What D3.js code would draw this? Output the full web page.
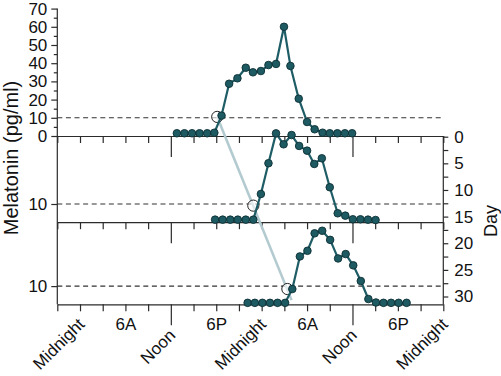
<!DOCTYPE html>
<html><head><meta charset="utf-8">
<script src="https://cdn.jsdelivr.net/npm/d3@7"></script>
<style>
html,body{margin:0;padding:0;background:#fff;}
svg{display:block;font-family:"Liberation Sans",Arial,sans-serif;}
</style></head>
<body><svg id="c" width="501" height="376"></svg>
<script>
// ---- data (hours since midnight of day 1; melatonin pg/ml) ----
const topHours = [12.8,13.8,14.8,15.8,16.8,17.75,18.7,19.7,20.8,21.9,22.85,23.9,24.9,25.9,26.95,27.8,28.9,30.0,31.0,32.05,33.0,34.0,35.0,35.95];
const topVals  = [1.5,1.5,1.5,1.5,1.5,1.8,11.2,28.7,31.7,37.5,35,35.7,39,39.6,60,38.5,20.5,7.7,3.7,1.8,1.5,1.5,1.5,1.5];
const midHours = [17.85,18.85,19.85,20.85,21.9,22.9,23.9,24.9,25.9,26.9,27.95,28.95,30.0,30.95,31.95,33.0,34.05,35.05,36.05,37.05,38.05,39.05];
const midVals  = [1.4,1.4,1.4,1.4,1.4,1.4,15.5,32.4,48.8,42.8,47.9,41.9,39.3,32,35.1,19.2,4.9,3.6,1.6,1.6,1.4,1.2];
const botHours = [22.15,23.1,24.1,25.1,26.1,27.1,28.05,29.05,30.05,31.0,32.0,33.05,34.1,35.1,36.1,37.1,38.1,39.1,40.1,41.1,42.1,43.15];
const botVals  = [0.8,0.8,0.8,0.8,0.8,0.8,8.4,26.3,29.4,39,40.4,35.4,25.2,27.6,21.4,12.8,2.9,1.0,0.8,0.8,0.8,0.8];
const onsetHours = [18.13,22.9,27.4];
const onsetVals  = [10.5,9.1,8.4];
const trendEnd = {hour:27.95, value:2.3};
const threshold = 10;
const xTickHours = d3.range(-3,49,3);
const xLabels = {0:"Midnight",6:"6A",12:"Noon",18:"6P",24:"Midnight",30:"6A",36:"Noon",42:"6P",48:"Midnight"};
const topYTicks = d3.range(0,71,5);
const dayTicks = d3.range(0,30.1,2.5);
const dayLabels = [0,5,10,15,20,25,30];

// ---- layout ----
const svg = d3.select("#c");
const x = d3.scaleLinear().domain([-3,48]).range([57.3,443.3]);
const k = 1.82; // px per pg/ml
const yTop = d3.scaleLinear().domain([0,70]).range([136,136-70*k]);
const yMid = d3.scaleLinear().domain([0,10]).range([222.2,222.2-10*k]);
const yBot = d3.scaleLinear().domain([0,10]).range([304.3,304.3-10*k]);
const yDay = d3.scaleLinear().domain([0,31.5]).range([136.7,304.5]);
const axisCol = "#2b2b2b", teal="#1f5d66", dotFill="#1d5a62", dotStroke="#0c2f34";

// dashed threshold lines
[yTop,yMid,yBot].forEach(y=>{
  svg.append("line").attr("x1",x(-3)).attr("x2",x(48))
    .attr("y1",y(threshold)).attr("y2",y(threshold))
    .attr("stroke","#333").attr("stroke-width",1.1).attr("stroke-dasharray","5,3.6");
});

// x axes (three baselines)
function xAxis(y0, labels){
  const g = svg.append("g").attr("transform",`translate(0,${y0})`)
    .call(d3.axisBottom(x).tickValues(xTickHours).tickSize(7).tickSizeOuter(0).tickFormat(""));
  g.select(".domain").attr("stroke",axisCol).attr("stroke-width",1.2);
  g.selectAll(".tick line").attr("stroke",axisCol).attr("stroke-width",1.2)
    .attr("y2",d=> (d%24===12)?21:7);
  if(labels){
    g.selectAll(".tick").each(function(d){
      const lab = xLabels[d]; if(!lab) return;
      const t = d3.select(this).append("text").attr("fill","#111").attr("font-size",17).text(lab);
      if(lab==="6A"||lab==="6P"){
        t.attr("text-anchor","middle").attr("x",0).attr("y",26);
      } else {
        const yy = lab==="Noon"?32:21;
        t.attr("text-anchor","end").attr("transform",`translate(5,${yy}) rotate(-45)`);
      }
    });
  }
}
xAxis(yTop(0),false);
xAxis(yMid(0),false);
xAxis(yBot(0),true);

// left axis line
svg.append("line").attr("x1",x(-3)).attr("x2",x(-3)).attr("y1",yTop(70)).attr("y2",yBot(0))
  .attr("stroke",axisCol).attr("stroke-width",1.2);
// top panel y ticks
const gl = svg.append("g").attr("transform",`translate(${x(-3)},0)`)
  .call(d3.axisLeft(yTop).tickValues(topYTicks).tickSize(6).tickSizeOuter(0).tickFormat(d=>d%10===0?d:""));
gl.select(".domain").remove();
gl.selectAll(".tick line").attr("stroke",axisCol).attr("stroke-width",1.2).attr("x2",d=>d%10===0?-6:-3.5);
gl.selectAll(".tick text").attr("font-size",17).attr("fill","#111").attr("font-family",null).attr("x",-10);
// middle and bottom '10' ticks
[yMid,yBot].forEach(y=>{
  const g = svg.append("g").attr("transform",`translate(${x(-3)},0)`)
    .call(d3.axisLeft(y).tickValues([threshold]).tickSize(6).tickSizeOuter(0));
  g.select(".domain").remove();
  g.selectAll(".tick line").attr("stroke",axisCol).attr("stroke-width",1.2);
  g.selectAll(".tick text").attr("font-size",17).attr("fill","#111").attr("font-family",null).attr("x",-10);
});

// right day axis
const gr = svg.append("g").attr("transform",`translate(${x(48)},0)`)
  .call(d3.axisRight(yDay).tickValues(dayTicks).tickSize(5).tickSizeOuter(0)
    .tickFormat(d=>dayLabels.includes(d)?d:""));
gr.select(".domain").attr("stroke",axisCol).attr("stroke-width",1.2)
  .attr("d",`M0,${yDay(0)}V${yBot(0)}`);
gr.selectAll(".tick line").attr("stroke",axisCol).attr("stroke-width",1.2);
gr.selectAll(".tick text").attr("font-size",17).attr("fill","#111").attr("font-family",null).attr("x",11);

// axis titles
svg.append("text").attr("transform",`translate(18,158) rotate(-90)`).attr("text-anchor","middle")
  .attr("font-size",20).attr("fill","#111").text("Melatonin (pg/ml)");
svg.append("text").attr("transform",`translate(497,221) rotate(-90)`).attr("text-anchor","middle")
  .attr("font-size",18).attr("fill","#111").text("Day");

// trend line through onsets
const scales = [yTop,yMid,yBot];
svg.append("line").attr("x1",x(onsetHours[0])).attr("y1",yTop(onsetVals[0]))
  .attr("x2",x(trendEnd.hour)).attr("y2",yBot(trendEnd.value))
  .attr("stroke","#b3cbd0").attr("stroke-width",2.6);
// onset circles
onsetHours.forEach((h,i)=>{
  svg.append("circle").attr("cx",x(h)).attr("cy",scales[i](onsetVals[i])).attr("r",5.6)
    .attr("fill","#fff").attr("fill-opacity",0.6).attr("stroke","#222").attr("stroke-width",1);
});

// series
const series = [[topHours,topVals,yTop],[midHours,midVals,yMid],[botHours,botVals,yBot]];
series.forEach(([hs,vs,y])=>{
  const pts = hs.map((h,i)=>[x(h),y(vs[i])]);
  svg.append("path").attr("d",d3.line()(pts)).attr("fill","none")
    .attr("stroke",teal).attr("stroke-width",2.2).attr("stroke-linejoin","round");
  svg.append("g").selectAll("circle").data(pts).join("circle")
    .attr("cx",d=>d[0]).attr("cy",d=>d[1]).attr("r",3.8)
    .attr("fill",dotFill).attr("stroke",dotStroke).attr("stroke-width",0.9);
});
</script></body></html>
